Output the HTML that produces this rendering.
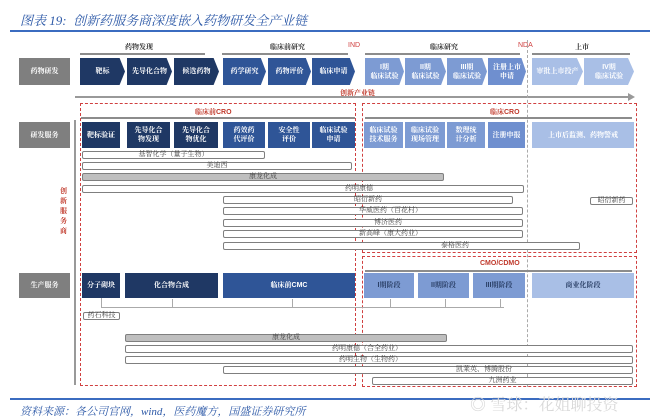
<!DOCTYPE html>
<html><head><meta charset="utf-8"><style>
*{margin:0;padding:0;box-sizing:border-box}
body{width:660px;height:420px;background:#fff;position:relative;overflow:hidden;font-family:"Liberation Sans","Noto Serif CJK SC","Noto Sans CJK SC",sans-serif}
.a{position:absolute}
.t{display:flex;align-items:center;justify-content:center;text-align:center;color:#fff;font-size:7px;line-height:9px;font-weight:bold}
.g{background:#7f7f7f}
.d{background:#1f3864}
.m{background:#2f5597}
.l{background:#7d9bd3}
.l2{background:#6f8fcf}
.p{background:#a9bfe6}
.ch{clip-path:polygon(0 0,88% 0,100% 50%,88% 100%,0 100%)}
.bar{position:absolute;height:8px;border:1.2px solid #7f7f7f;border-radius:2px;background:#fff;font-size:7px;color:#444;line-height:5px;text-align:center;white-space:nowrap}
.bar.f{background:#bfbfbf}
.hl{position:absolute;height:3px;background:#8c8c8c}
.hd{position:absolute;font-size:7px;font-weight:bold;color:#333}
.red{color:#c0392b;font-weight:bold;font-size:7px}
.rb{position:absolute;border:1.3px dashed #d04040}
</style></head><body>
<div class="a" style="left:20px;top:10px;font-size:13px;color:#2e5aa8;font-style:italic;font-family:'Liberation Serif','Noto Serif CJK SC',serif">图表 19:&nbsp; 创新药服务商深度嵌入药物研发全产业链</div>
<div class="a" style="left:10px;top:30px;width:640px;height:2px;background:#3b6cc0"></div>

<div class="hd" style="left:125px;top:42px">药物发现</div>
<div class="hd" style="left:270px;top:42px">临床前研究</div>
<div class="a" style="left:348px;top:42px;font-size:7px;color:#d04040">IND</div>
<div class="hd" style="left:430px;top:42px">临床研究</div>
<div class="a" style="left:518px;top:42px;font-size:7px;color:#d04040">NDA</div>
<div class="hd" style="left:575px;top:42px">上市</div>
<div class="hl" style="left:80px;top:53px;width:125px;height:2px"></div>
<div class="hl" style="left:222px;top:53px;width:126px;height:2px"></div>
<div class="hl" style="left:365px;top:53px;width:155px;height:2px"></div>
<div class="hl" style="left:532px;top:53px;width:98px;height:2px"></div>

<div class="a t g" style="left:19px;top:58px;width:51px;height:27px">药物研发</div>
<div class="a t d ch" style="left:80px;top:58px;width:45px;height:27px">靶标</div>
<div class="a t d ch" style="left:127px;top:58px;width:45px;height:27px">先导化合物</div>
<div class="a t d ch" style="left:174px;top:58px;width:45px;height:27px">候选药物</div>
<div class="a t m ch" style="left:223px;top:58px;width:43px;height:27px">药学研究</div>
<div class="a t m ch" style="left:268px;top:58px;width:43px;height:27px">药物评价</div>
<div class="a t m ch" style="left:312px;top:58px;width:43px;height:27px">临床申请</div>
<div class="a t l ch" style="left:365px;top:58px;width:39px;height:27px">I期<br>临床试验</div>
<div class="a t l ch" style="left:405px;top:58px;width:41px;height:27px">II期<br>临床试验</div>
<div class="a t l ch" style="left:447px;top:58px;width:40px;height:27px">III期<br>临床试验</div>
<div class="a t l2 ch" style="left:488px;top:58px;width:38px;height:27px">注册上市<br>申请</div>
<div class="a t p ch" style="left:532px;top:58px;width:51px;height:27px">审批上市投产</div>
<div class="a t p ch" style="left:584px;top:58px;width:50px;height:27px">IV期<br>临床试验</div>

<div class="a red" style="left:340px;top:88px">创新产业链</div>
<div class="a" style="left:75px;top:96px;width:555px;height:2px;background:#999"></div>
<div class="a" style="left:628px;top:93px;width:0;height:0;border-left:7px solid #999;border-top:4px solid transparent;border-bottom:4px solid transparent"></div>

<div class="a" style="left:74px;top:120px;width:2px;height:265px;background:#999"></div>
<div class="rb" style="left:80px;top:103px;width:276px;height:283px"></div>
<div class="rb" style="left:362px;top:103px;width:275px;height:150px"></div>
<div class="rb" style="left:362px;top:256px;width:275px;height:131px"></div>
<div class="a" style="left:527px;top:40px;width:0;height:347px;border-left:1.2px dashed #aaa"></div>

<div class="a red" style="left:195px;top:107px">临床前CRO</div>
<div class="a red" style="left:490px;top:107px">临床CRO</div>
<div class="hl" style="left:81px;top:117px;width:274px;height:2px"></div>
<div class="hl" style="left:365px;top:117px;width:267px;height:2px"></div>

<div class="a t g" style="left:19px;top:122px;width:51px;height:26px">研发服务</div>
<div class="a t d" style="left:82px;top:122px;width:38px;height:26px">靶标验证</div>
<div class="a t d" style="left:127px;top:122px;width:43px;height:26px">先导化合<br>物发现</div>
<div class="a t d" style="left:174px;top:122px;width:44px;height:26px">先导化合<br>物优化</div>
<div class="a t m" style="left:223px;top:122px;width:42px;height:26px">药效药<br>代评价</div>
<div class="a t m" style="left:268px;top:122px;width:42px;height:26px">安全性<br>评价</div>
<div class="a t m" style="left:312px;top:122px;width:43px;height:26px">临床试验<br>申请</div>
<div class="a t l" style="left:364px;top:122px;width:39px;height:26px">临床试验<br>技术服务</div>
<div class="a t l" style="left:405px;top:122px;width:40px;height:26px">临床试验<br>现场管理</div>
<div class="a t l" style="left:447px;top:122px;width:38px;height:26px">数理统<br>计分析</div>
<div class="a t l2" style="left:488px;top:122px;width:37px;height:26px">注册申报</div>
<div class="a t p" style="left:532px;top:122px;width:102px;height:26px">上市后监测、药物警戒</div>

<div class="bar" style="left:82px;top:151px;width:183px">基智化学（量子生物）</div>
<div class="bar" style="left:82px;top:162px;width:270px">美迪西</div>
<div class="bar f" style="left:82px;top:173px;width:362px">康龙化成</div>
<div class="bar" style="left:82px;top:185px;width:442px;text-align:right;padding-right:150px">药明康德</div>
<div class="bar" style="left:223px;top:196px;width:290px">昭衍新药</div>
<div class="bar" style="left:590px;top:197px;width:43px">昭衍新药</div>
<div class="bar" style="left:223px;top:207px;width:300px;text-align:right;padding-right:100px">华威医药（百花村）</div>
<div class="bar" style="left:223px;top:219px;width:300px;text-align:right;padding-right:120px">博济医药</div>
<div class="bar" style="left:223px;top:230px;width:300px;text-align:right;padding-right:100px">新高峰（康大药业）</div>
<div class="bar" style="left:223px;top:242px;width:357px;text-align:right;padding-right:110px">泰格医药</div>

<div class="a red" style="left:60px;top:187px;width:8px;line-height:10px">创新服务商</div>

<div class="a red" style="left:480px;top:260px">CMO/CDMO</div>
<div class="hl" style="left:365px;top:270px;width:267px;height:2px"></div>

<div class="a t g" style="left:19px;top:273px;width:51px;height:25px">生产服务</div>
<div class="a t d" style="left:82px;top:273px;width:38px;height:25px">分子砌块</div>
<div class="a t d" style="left:125px;top:273px;width:93px;height:25px">化合物合成</div>
<div class="a t m" style="left:223px;top:273px;width:132px;height:25px">临床前CMC</div>
<div class="a t l" style="left:364px;top:273px;width:50px;height:25px;color:#2a3f66">I期阶段</div>
<div class="a t l" style="left:418px;top:273px;width:51px;height:25px;color:#2a3f66">II期阶段</div>
<div class="a t l" style="left:473px;top:273px;width:52px;height:25px;color:#2a3f66">III期阶段</div>
<div class="a t p" style="left:532px;top:273px;width:102px;height:25px;color:#2a3f66">商业化阶段</div>

<div class="a" style="left:101px;top:298px;width:1px;height:10px;background:#aaa"></div>
<div class="a" style="left:101px;top:307px;width:403px;height:1px;background:#aaa"></div>
<div class="a" style="left:172px;top:299px;width:1px;height:8px;background:#aaa"></div>
<div class="a" style="left:292px;top:299px;width:1px;height:8px;background:#aaa"></div>
<div class="a" style="left:390px;top:299px;width:1px;height:8px;background:#aaa"></div>
<div class="a" style="left:445px;top:299px;width:1px;height:8px;background:#aaa"></div>
<div class="a" style="left:500px;top:299px;width:1px;height:8px;background:#aaa"></div>

<div class="bar" style="left:83px;top:312px;width:37px">药石科技</div>
<div class="bar f" style="left:125px;top:334px;width:322px">康龙化成</div>
<div class="bar" style="left:125px;top:345px;width:508px;text-align:right;padding-right:230px">药明康德（合全药业）</div>
<div class="bar" style="left:125px;top:356px;width:508px;text-align:right;padding-right:230px">药明生物（生物药）</div>
<div class="bar" style="left:223px;top:366px;width:410px;text-align:right;padding-right:120px">凯莱英、博腾股份</div>
<div class="bar" style="left:372px;top:377px;width:261px">九洲药业</div>

<div class="a" style="left:10px;top:398px;width:640px;height:1.5px;background:#3b6cc0"></div>
<div class="a" style="left:20px;top:403px;font-size:11px;color:#2e5aa8;font-style:italic;font-family:'Liberation Serif','Noto Serif CJK SC',serif">资料来源：各公司官网，wind，医药魔方，国盛证券研究所</div>
<div class="a" style="left:470px;top:392px;font-size:16px;color:#d8d8d8">◎ 雪球：花姐聊投资</div>
</body></html>
